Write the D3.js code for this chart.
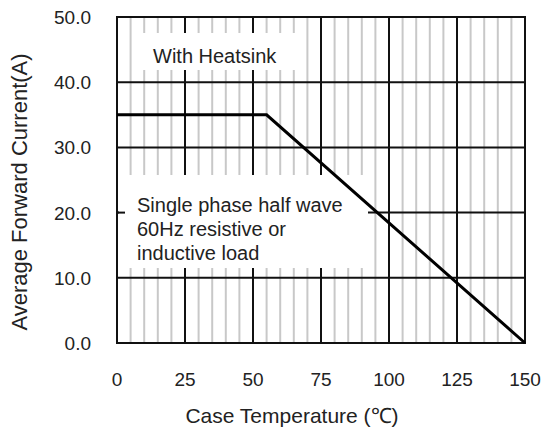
<!DOCTYPE html>
<html>
<head>
<meta charset="utf-8">
<script src="https://cdn.jsdelivr.net/npm/d3@7"></script>
<style>
body { margin:0; background:#fff; }
text { font-family:"Liberation Sans", Arial, sans-serif; fill:#222; }
</style>
</head>
<body>
<svg id="chart"></svg>
<script>
var width = 542, height = 432;
var plotLeft = 117, plotRight = 525, plotTop = 17, plotBottom = 343;

// derating curve
var tempValues = [0, 55, 150];
var currentValues = [35, 35, 0];
var xTickValues = [0, 25, 50, 75, 100, 125, 150];
var yTickValues = [0, 10, 20, 30, 40, 50];
var minorXValues = d3.range(0, 151, 5);
var noteHeatsink = ["With Heatsink"];
var noteLoad = ["Single phase half wave", "60Hz resistive or", "inductive load"];

var svg = d3.select("#chart")
.attr("width", width)
.attr("height", height);

var x = d3.scaleLinear().domain([0, 150]).range([plotLeft, plotRight]);
var y = d3.scaleLinear().domain([0, 50]).range([plotBottom, plotTop]);

// grid
var grid = svg.append("g");
grid.selectAll("line.minor")
.data(minorXValues.filter(function(d) { return d % 25 != 0; }))
.enter().append("line")
.attr("x1", x).attr("x2", x)
.attr("y1", plotTop).attr("y2", plotBottom)
.attr("stroke", "#c8c8c8")
.attr("stroke-width", 2);
grid.selectAll("line.majorX")
.data(xTickValues)
.enter().append("line")
.attr("x1", x).attr("x2", x)
.attr("y1", plotTop).attr("y2", plotBottom)
.attr("stroke", "#111")
.attr("stroke-width", 2);
grid.selectAll("line.majorY")
.data(yTickValues)
.enter().append("line")
.attr("x1", plotLeft).attr("x2", plotRight)
.attr("y1", y).attr("y2", y)
.attr("stroke", "#111")
.attr("stroke-width", 2);

// note boxes hide the grid behind the text
svg.append("rect")
.attr("x", 134).attr("y", 33)
.attr("width", 164).attr("height", 37)
.attr("fill", "#fff");
svg.append("rect")
.attr("x", 119).attr("y", 175)
.attr("width", 249).attr("height", 93)
.attr("fill", "#fff");

// small tick left visible at 20
svg.append("line")
.attr("x1", plotLeft).attr("x2", plotLeft+8)
.attr("y1", y(20)).attr("y2", y(20))
.attr("stroke", "#111")
.attr("stroke-width", 2);

// frame
svg.append("rect")
.attr("x", plotLeft).attr("y", plotTop)
.attr("width", plotRight-plotLeft)
.attr("height", plotBottom-plotTop)
.attr("fill", "none")
.attr("stroke", "#111")
.attr("stroke-width", 2);

// curve
var line = d3.line()
.x(function(d, i) { return x(tempValues[i]); })
.y(function(d) { return y(d); });
svg.append("path")
.datum(currentValues)
.attr("d", line)
.attr("fill", "none")
.attr("stroke", "#000")
.attr("stroke-width", 3);

// tick labels
svg.selectAll("text.ytick")
.data(yTickValues)
.enter().append("text")
.attr("x", 91)
.attr("y", function(d) { return y(d)+7; })
.attr("text-anchor", "end")
.attr("font-size", 19)
.text(function(d) { return d.toFixed(1); });
svg.selectAll("text.xtick")
.data(xTickValues)
.enter().append("text")
.attr("x", x)
.attr("y", 386)
.attr("text-anchor", "middle")
.attr("font-size", 19)
.text(function(d) { return d; });

// axis titles
svg.append("text")
.attr("x", 292)
.attr("y", 423)
.attr("text-anchor", "middle")
.attr("font-size", 21)
.text("Case Temperature (\u2103)");
svg.append("text")
.attr("transform", "translate(27,192) rotate(-90)")
.attr("text-anchor", "middle")
.attr("font-size", 22)
.text("Average Forward Current(A)");

// notes
svg.append("text")
.attr("x", 153).attr("y", 63)
.attr("font-size", 20)
.text(noteHeatsink[0]);
svg.selectAll("text.note")
.data(noteLoad)
.enter().append("text")
.attr("x", 137)
.attr("y", function(d, i) { return 212+i*24; })
.attr("font-size", 20)
.text(function(d) { return d; });
</script>
</body>
</html>
